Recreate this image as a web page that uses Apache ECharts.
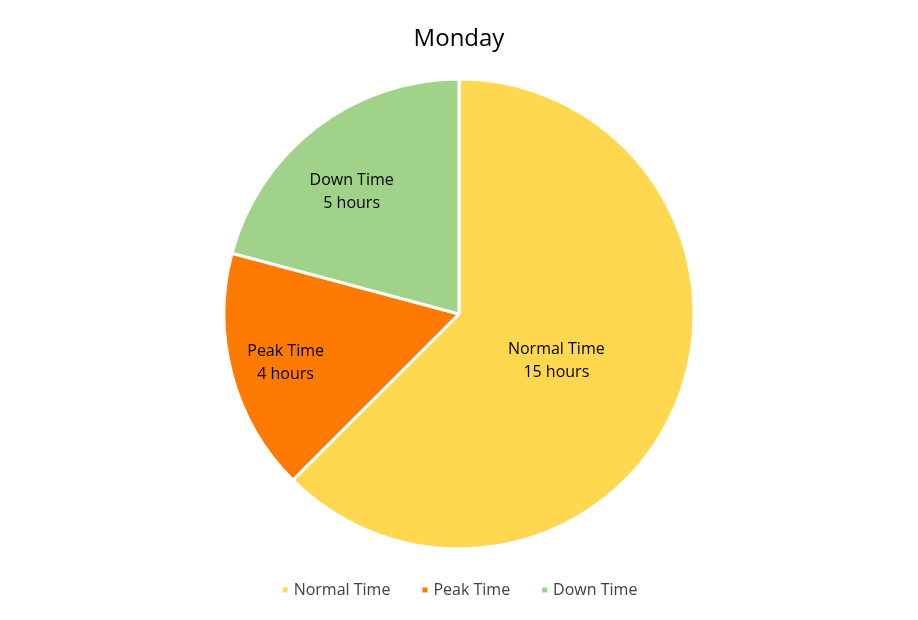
<!DOCTYPE html>
<html>
<head>
<meta charset="utf-8">
<script src="https://cdn.jsdelivr.net/npm/echarts@6/dist/echarts.min.js"></script>
<style>html,body{margin:0;padding:0;background:#fff}#c{width:918px;height:620px}</style>
</head>
<body>
<div id="c"></div>
<script>
const titleText = 'Monday';
const categories = ['Normal Time', 'Peak Time', 'Down Time'];
const values = [15, 4, 5];
const unit = 'hours';
const colors = ['#FFD84F', '#FF7A00', '#A0D389'];
const labelOffsets = [[-14, 1], [-57, 18], [-34, -26]];

const chart = echarts.init(document.getElementById('c'), null, {renderer: 'canvas'});
const FONT = 'Open Sans';
chart.setOption({
  backgroundColor: '#ffffff',
  animation: false,
  title: {
    text: titleText, left: 'center', top: 22,
    textStyle: {fontFamily: FONT, fontSize: 24, fontWeight: 'normal', color: '#000'}
  },
  legend: {
    bottom: 17, left: 'center',
    itemWidth: 7, itemHeight: 7, itemGap: 30, icon: 'rect',
    textStyle: {fontFamily: FONT, fontSize: 16, color: '#404040'},
    data: categories
  },
  series: [{
    type: 'pie',
    center: [459, 314],
    radius: [0, 235],
    startAngle: 90,
    clockwise: true,
    avoidLabelOverlap: false,
    itemStyle: {borderColor: '#fff', borderWidth: 3},
    label: {
      show: true, position: 'inside',
      fontFamily: FONT, fontSize: 16, color: '#000', lineHeight: 23,
      formatter: p => p.name + '\n' + p.value + ' ' + unit
    },
    labelLine: {show: false},
    labelLayout: p => ({dx: labelOffsets[p.dataIndex][0], dy: labelOffsets[p.dataIndex][1]}),
    emphasis: {disabled: true},
    data: categories.map((c, i) => ({name: c, value: values[i], itemStyle: {color: colors[i]}}))
  }]
});
</script>
</body>
</html>
